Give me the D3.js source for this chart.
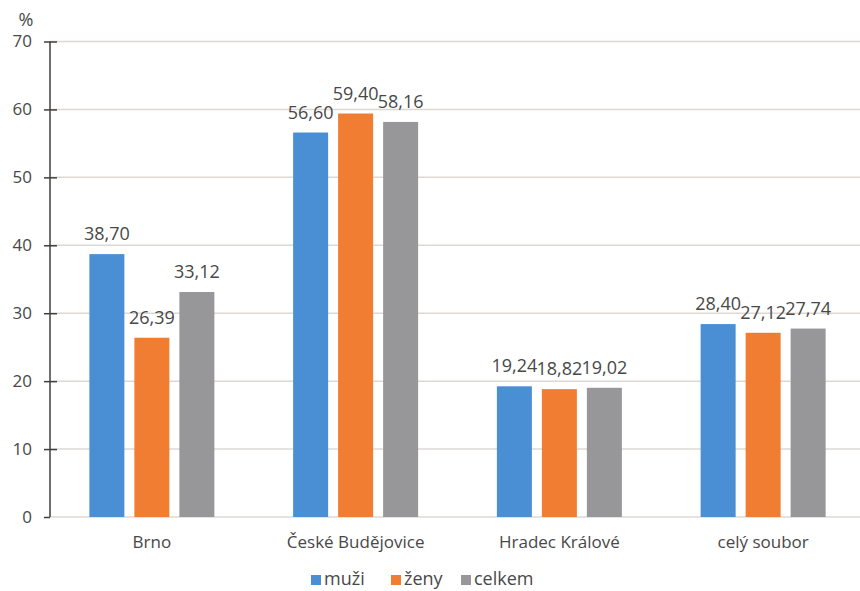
<!DOCTYPE html>
<html><head><meta charset="utf-8">
<script src="https://cdn.jsdelivr.net/npm/d3@7"></script>
<style>
html,body{margin:0;padding:0;background:#fff;}
text{font-family:"Open Sans",sans-serif;fill:#484848;}
</style></head>
<body>
<svg id="chart" width="860" height="591"></svg>
<script>
const categories = ["Brno", "České Budějovice", "Hradec Králové", "celý soubor"];
const seriesNames = ["muži", "ženy", "celkem"];
const muzi = [38.70, 56.60, 19.24, 28.40];
const zeny = [26.39, 59.40, 18.82, 27.12];
const celkem = [33.12, 58.16, 19.02, 27.74];
const yTicks = [0, 10, 20, 30, 40, 50, 60, 70];
const colors = ["#4a8ed4", "#f07d32", "#979799"];

const series = [muzi, zeny, celkem];
const svg = d3.select("#chart");
const fmt = v => v.toFixed(2).replace(".", ",");

const x0 = d3.scaleBand().domain(categories).range([50, 865]).padding(0);
const x1 = d3.scaleBand().domain(seriesNames).range([-62.5, 62.5]).paddingInner(10/45).paddingOuter(0);
const y = d3.scaleLinear().domain([0, 70]).range([517, 41.5]);

// gridlines
svg.append("g").selectAll("line").data(yTicks).join("line")
  .attr("x1", 50).attr("x2", 860)
  .attr("y1", d => y(d)).attr("y2", d => y(d))
  .attr("stroke", "#ddd8d4").attr("stroke-width", 1.5);

// y axis
const yAxis = d3.axisLeft(y).tickValues(yTicks).tickSize(0).tickPadding(18);
const ga = svg.append("g").attr("transform", "translate(50,0)").call(yAxis);
ga.select(".domain").remove();
ga.selectAll("text").style("font-size", "17px").attr("fill", "#484848").style("font-family", "'Open Sans',sans-serif");
ga.selectAll(".tick").append("line").attr("x1", -6).attr("x2", d => d === 0 ? 0 : 7)
  .attr("stroke", "#3f3f3f").attr("stroke-width", 1.5);
svg.append("line").attr("x1", 50).attr("x2", 50).attr("y1", y(70)).attr("y2", y(0))
  .attr("stroke", "#3f3f3f").attr("stroke-width", 1.5);

svg.append("text").attr("x", 26).attr("y", 26).attr("text-anchor", "middle")
  .style("font-size", "18px").text("%");

// bars
const groups = svg.append("g").selectAll("g").data(categories).join("g")
  .attr("transform", d => `translate(${x0(d) + x0.bandwidth()/2},0)`);
groups.each(function(cat, ci) {
  const g = d3.select(this);
  seriesNames.forEach((s, si) => {
    const v = series[si][ci];
    g.append("rect").attr("x", x1(s)).attr("width", x1.bandwidth())
      .attr("y", y(v)).attr("height", y(0) - y(v)).attr("fill", colors[si]);
    g.append("text").attr("x", x1(s) + x1.bandwidth()/2).attr("y", y(v) - 14)
      .attr("text-anchor", "middle").style("font-size", "18px").text(fmt(v));
  });
});

// category labels
svg.append("g").selectAll("text").data(categories).join("text")
  .attr("x", d => x0(d) + x0.bandwidth()/2).attr("y", 548)
  .attr("text-anchor", "middle").style("font-size", "17px").text(d => d);

// legend
const legX = [311, 391, 461];
const leg = svg.append("g");
seriesNames.forEach((s, i) => {
  leg.append("rect").attr("x", legX[i]).attr("y", 575).attr("width", 10).attr("height", 10).attr("fill", colors[i]);
  leg.append("text").attr("x", legX[i] + 13).attr("y", 585).style("font-size", "18px").text(s);
});
</script>
</body></html>
